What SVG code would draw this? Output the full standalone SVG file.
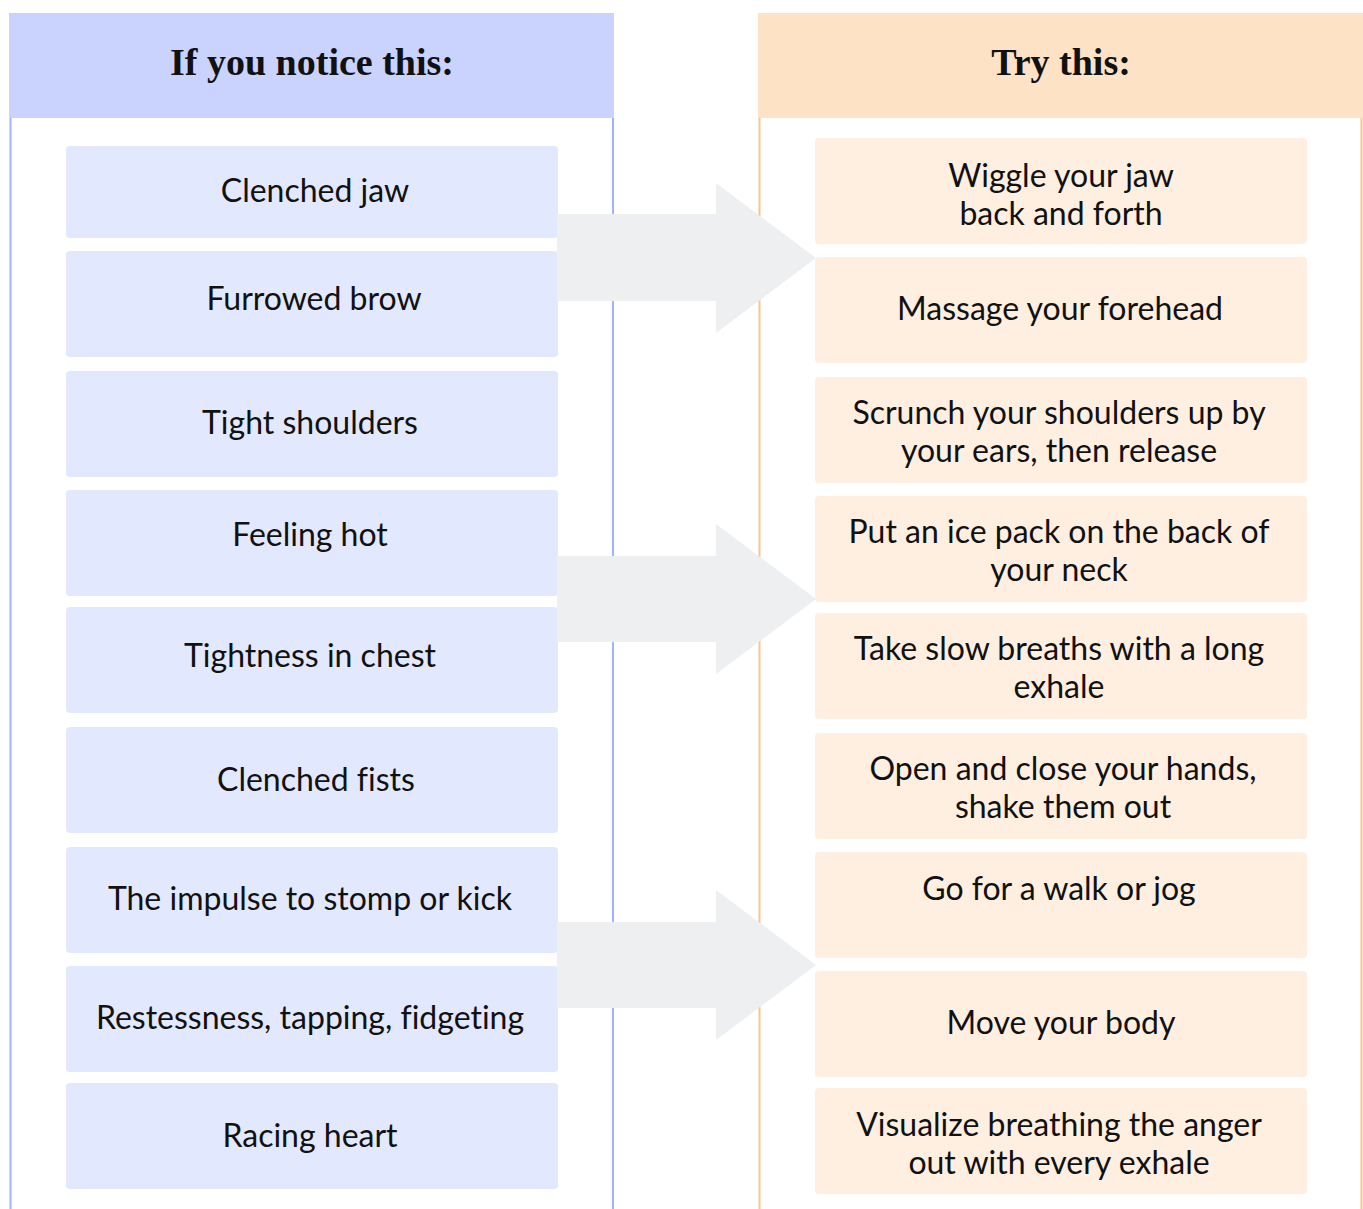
<svg xmlns="http://www.w3.org/2000/svg" width="1363" height="1209" viewBox="0 0 1363 1209">
<style>
.hl{fill:#c9d3fe}
.hr{fill:#fde2c5}
.bl{fill:#e2e8fe}
.br{fill:#feefe1}
.t{font-family:Lato,"Noto Sans",sans-serif;font-size:32px;fill:#111;text-anchor:middle;font-variant-ligatures:none}
.h{font-family:"Liberation Serif",serif;font-weight:bold;font-size:38px;fill:#111;text-anchor:middle}
.arr{fill:#eeeff1}
</style>
<rect width="1363" height="1209" fill="#ffffff"/>
<g id="panel-left">
<rect class="hl" x="9" y="13" width="605" height="105"/>
<line x1="10.5" y1="118" x2="10.5" y2="1209" stroke="#a3b2ff" stroke-width="2"/>
<line x1="613" y1="118" x2="613" y2="1209" stroke="#a3b2ff" stroke-width="2"/>
<text class="h" x="312" y="75">If you notice this:</text>
</g>
<g id="panel-right">
<rect class="hr" x="758" y="13" width="605" height="105"/>
<line x1="759.5" y1="118" x2="759.5" y2="1209" stroke="#fcc38a" stroke-width="2"/>
<line x1="1361.5" y1="118" x2="1361.5" y2="1209" stroke="#fcc38a" stroke-width="2"/>
<text class="h" x="1061" y="75">Try this:</text>
</g>
<g id="n-l1"><rect class="bl" x="66" y="146" width="492" height="92" rx="4"/><text class="t" x="315" y="202">Clenched jaw</text></g>
<g id="n-l2"><rect class="bl" x="66" y="251" width="492" height="106" rx="4"/><text class="t" x="314" y="310">Furrowed brow</text></g>
<g id="n-l3"><rect class="bl" x="66" y="371" width="492" height="106" rx="4"/><text class="t" x="310" y="434">Tight shoulders</text></g>
<g id="n-l4"><rect class="bl" x="66" y="490" width="492" height="106" rx="4"/><text class="t" x="310" y="546">Feeling hot</text></g>
<g id="n-l5"><rect class="bl" x="66" y="607" width="492" height="106" rx="4"/><text class="t" x="310" y="667">Tightness in chest</text></g>
<g id="n-l6"><rect class="bl" x="66" y="727" width="492" height="106" rx="4"/><text class="t" x="316" y="791">Clenched fists</text></g>
<g id="n-l7"><rect class="bl" x="66" y="847" width="492" height="106" rx="4"/><text class="t" x="310" y="910">The impulse to stomp or kick</text></g>
<g id="n-l8"><rect class="bl" x="66" y="966" width="492" height="106" rx="4"/><text class="t" x="310" y="1029">Restessness, tapping, fidgeting</text></g>
<g id="n-l9"><rect class="bl" x="66" y="1083" width="492" height="106" rx="4"/><text class="t" x="310" y="1147">Racing heart</text></g>
<g id="n-r1"><rect class="br" x="815" y="138" width="492" height="106" rx="4"/><text class="t" x="1061" y="187">Wiggle your jaw</text><text class="t" x="1061" y="225">back and forth</text></g>
<g id="n-r2"><rect class="br" x="815" y="257" width="492" height="106" rx="4"/><text class="t" x="1060" y="320">Massage your forehead</text></g>
<g id="n-r3"><rect class="br" x="815" y="377" width="492" height="106" rx="4"/><text class="t" x="1059" y="424">Scrunch your shoulders up by</text><text class="t" x="1059" y="462">your ears, then release</text></g>
<g id="n-r4"><rect class="br" x="815" y="496" width="492" height="106" rx="4"/><text class="t" x="1059" y="543">Put an ice pack on the back of</text><text class="t" x="1059" y="581">your neck</text></g>
<g id="n-r5"><rect class="br" x="815" y="613" width="492" height="106" rx="4"/><text class="t" x="1059" y="660">Take slow breaths with a long</text><text class="t" x="1059" y="698">exhale</text></g>
<g id="n-r6"><rect class="br" x="815" y="733" width="492" height="106" rx="4"/><text class="t" x="1063" y="780">Open and close your hands,</text><text class="t" x="1063" y="818">shake them out</text></g>
<g id="n-r7"><rect class="br" x="815" y="852" width="492" height="106" rx="4"/><text class="t" x="1059" y="900">Go for a walk or jog</text></g>
<g id="n-r8"><rect class="br" x="815" y="971" width="492" height="106" rx="4"/><text class="t" x="1061" y="1034">Move your body</text></g>
<g id="n-r9"><rect class="br" x="815" y="1088" width="492" height="106" rx="4"/><text class="t" x="1059" y="1136">Visualize breathing the anger</text><text class="t" x="1059" y="1174">out with every exhale</text></g>
<g id="connectors">
<polygon class="arr" points="557,214 716,214 716,183 816,258 716,333 716,301 557,301"/>
<polygon class="arr" points="557,556 716,556 716,524 816,599 716,674 716,642 557,642"/>
<polygon class="arr" points="557,922 716,922 716,890 816,965 716,1040 716,1008 557,1008"/>
</g>
</svg>
